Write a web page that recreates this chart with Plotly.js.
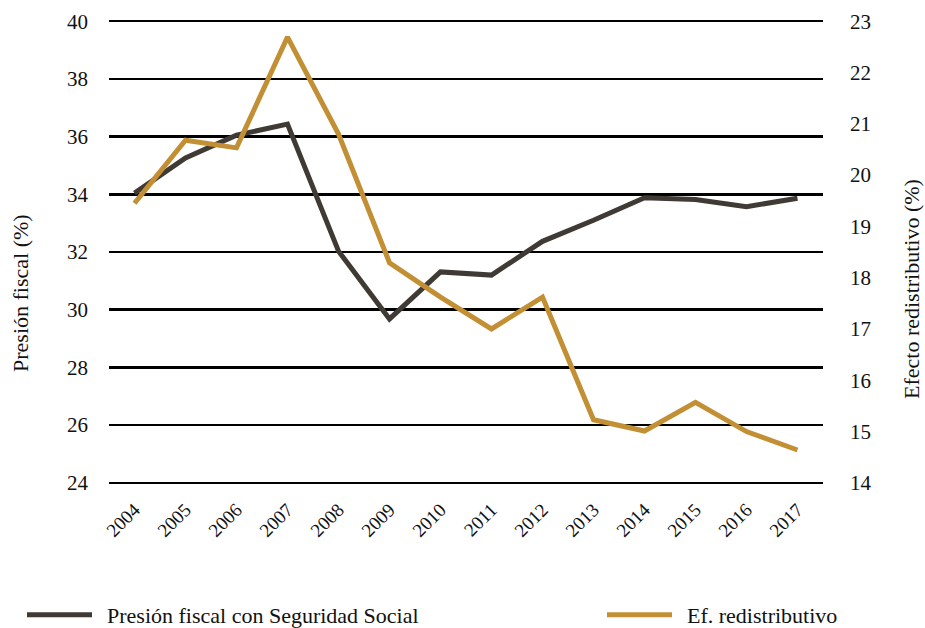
<!DOCTYPE html>
<html>
<head>
<meta charset="utf-8">
<script src="https://cdn.plot.ly/plotly-3.0.1.min.js"></script>
<style>
html, body { margin: 0; padding: 0; background: #ffffff; }
#chart { width: 925px; height: 628px; }
</style>
</head>
<body>
<div id="chart"></div>
<script>
const years = ["2004","2005","2006","2007","2008","2009","2010","2011","2012","2013","2014","2015","2016","2017"];
const presionFiscal = [34.04, 35.26, 36.05, 36.43, 32.03, 29.68, 31.31, 31.2, 32.37, 33.1, 33.88, 33.82, 33.57, 33.86];
const efRedistributivo = [19.45, 20.68, 20.53, 22.69, 20.8, 18.29, 17.62, 17.0, 17.62, 15.23, 15.01, 15.57, 15.0, 14.64];
const leftTicks = [24, 26, 28, 30, 32, 34, 36, 38, 40];
const rightTicks = [14, 15, 16, 17, 18, 19, 20, 21, 22, 23];

const FONT = "Liberation Serif";
const PAD = 0.04; // small range padding so the edge gridlines (24 and 40) are drawn

const traces = [
  {
    x: years, y: presionFiscal, type: "scatter", mode: "lines",
    name: "Presión fiscal con Seguridad Social",
    line: { color: "#403a35", width: 5 },
    yaxis: "y", legend: "legend"
  },
  {
    x: years, y: efRedistributivo, type: "scatter", mode: "lines",
    name: "Ef. redistributivo",
    line: { color: "#c38f34", width: 5 },
    yaxis: "y2", legend: "legend2"
  }
];

const legendCommon = {
  orientation: "h", xref: "container", yref: "container",
  xanchor: "left", y: 1 - 615 / 628, yanchor: "middle",
  font: { family: FONT, size: 22, color: "#111111" },
  itemwidth: 75,
  bgcolor: "rgba(0,0,0,0)", borderwidth: 0
};

const layout = {
  width: 925, height: 628,
  margin: { l: 109, r: 102, t: 20, b: 144 },
  paper_bgcolor: "#ffffff", plot_bgcolor: "#ffffff",
  font: { family: FONT, color: "#111111", size: 19 },
  showlegend: true,
  legend: Object.assign({}, legendCommon, { x: 22 / 925 }),
  legend2: Object.assign({}, legendCommon, { x: 602 / 925 }),
  xaxis: {
    type: "category",
    range: [-0.5, 13.5],
    tickangle: -45,
    showgrid: false, zeroline: false, showline: false,
    ticks: "", ticklabelstandoff: 10,
    tickfont: { family: FONT, size: 19, color: "#111111" }
  },
  yaxis: {
    range: [24 - PAD, 40 + PAD], tickvals: leftTicks, ticktext: leftTicks.map(String),
    showgrid: true, gridcolor: "#000000", gridwidth: 2.5,
    zeroline: false, showline: false, ticks: "", ticklabelstandoff: 20,
    tickfont: { family: FONT, size: 21, color: "#111111" }
  },
  yaxis2: {
    overlaying: "y", side: "right",
    range: [14 - PAD * 9 / 16, 23 + PAD * 9 / 16], tickvals: rightTicks, ticktext: rightTicks.map(String),
    showgrid: false, zeroline: false, showline: false, ticks: "", ticklabelstandoff: 26,
    tickfont: { family: FONT, size: 21, color: "#111111" }
  },
  annotations: [
    {
      text: "Presión fiscal (%)", xref: "paper", yref: "paper",
      x: (20 - 109) / 714, y: (484 - 293) / 464, xanchor: "center", yanchor: "middle",
      textangle: -90, showarrow: false,
      font: { family: FONT, size: 22, color: "#111111" }
    },
    {
      text: "Efecto redistributivo (%)", xref: "paper", yref: "paper",
      x: (912 - 109) / 714, y: (484 - 289) / 464, xanchor: "center", yanchor: "middle",
      textangle: -90, showarrow: false,
      font: { family: FONT, size: 22, color: "#111111" }
    }
  ]
};

Plotly.newPlot("chart", traces, layout, { staticPlot: true, displayModeBar: false }).then(function (gd) {
  // lengthen legend line symbols to match the reference's longer swatches
  gd.querySelectorAll(".legendlines path").forEach(function (p) {
    p.setAttribute("d", "M5,0h65");
  });
});
</script>
</body>
</html>
